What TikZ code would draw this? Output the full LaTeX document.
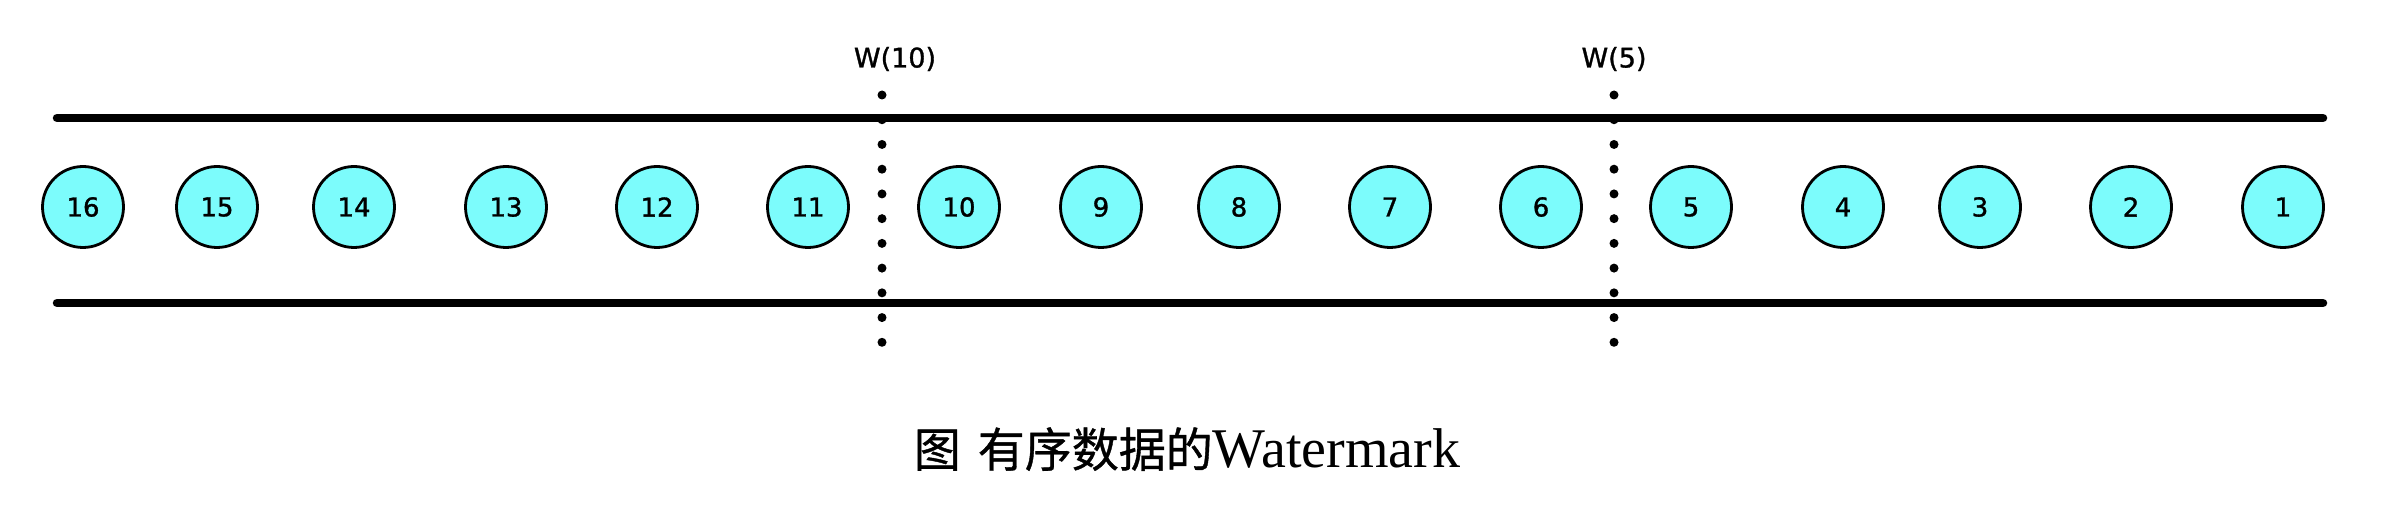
\documentclass[tikz,border=0pt]{standalone}
\usepackage{fontspec}
\setmainfont{Liberation Serif}
\newfontfamily\labelfont[FakeBold=1.2]{DejaVu Sans}
\newfontfamily\cjkfont[FakeBold=0.8]{Noto Sans CJK SC}
\definecolor{ballcyan}{RGB}{124,252,252}
\tikzset{
  ball/.style={circle, draw=black, line width=2.8pt, fill=ballcyan, minimum size=81pt, inner sep=0pt,
    font=\labelfont\fontsize{26}{26}\selectfont},
  rail/.style={line width=8.5pt, line cap=round, draw=black},
  wmline/.style={line width=9pt, line cap=round, dash pattern=on 0pt off 24.73pt, draw=black},
  wmlabel/.style={inner sep=0pt, font=\labelfont\fontsize{27}{27}\selectfont},
  caption/.style={inner sep=0pt, anchor=base}
}
\begin{document}
\begin{tikzpicture}[x=1pt, y=-1pt]
\useasboundingbox (0,0) rectangle (2382,510);
% rails
\coordinate (tl) at (57,118);
\coordinate (tr) at (2323,118);
\coordinate (bl) at (57,303);
\coordinate (br) at (2323,303);
\draw[rail] (tl) -- (tr);
\draw[rail] (bl) -- (br);
% watermark lines
\coordinate (w10top) at (882,95);
\coordinate (w10bot) at (882,367);
\coordinate (w5top) at (1614,95);
\coordinate (w5bot) at (1614,367);
\draw[wmline] (w10top) -- (w10bot);
\draw[wmline] (w5top) -- (w5bot);
\node[wmlabel] (w10) at (895,59) {W(10)};
\node[wmlabel] (w5) at (1614,59) {W(5)};
% elements
\foreach \n/\x in {16/83,15/217,14/354,13/506,12/657,11/808,10/959,9/1101,8/1239,7/1390,6/1541,5/1691,4/1843,3/1980,2/2131,1/2283}{
  \node[ball] (c\n) at (\x,207) {\n};
}
% caption
\node[caption] (cap) at (1187,467) {{\cjkfont\fontsize{47}{47}\selectfont 图}\hspace{17pt}{\cjkfont\fontsize{47}{47}\selectfont 有序数据的}{\fontsize{56}{56}\selectfont Watermark}};
\end{tikzpicture}
\end{document}
